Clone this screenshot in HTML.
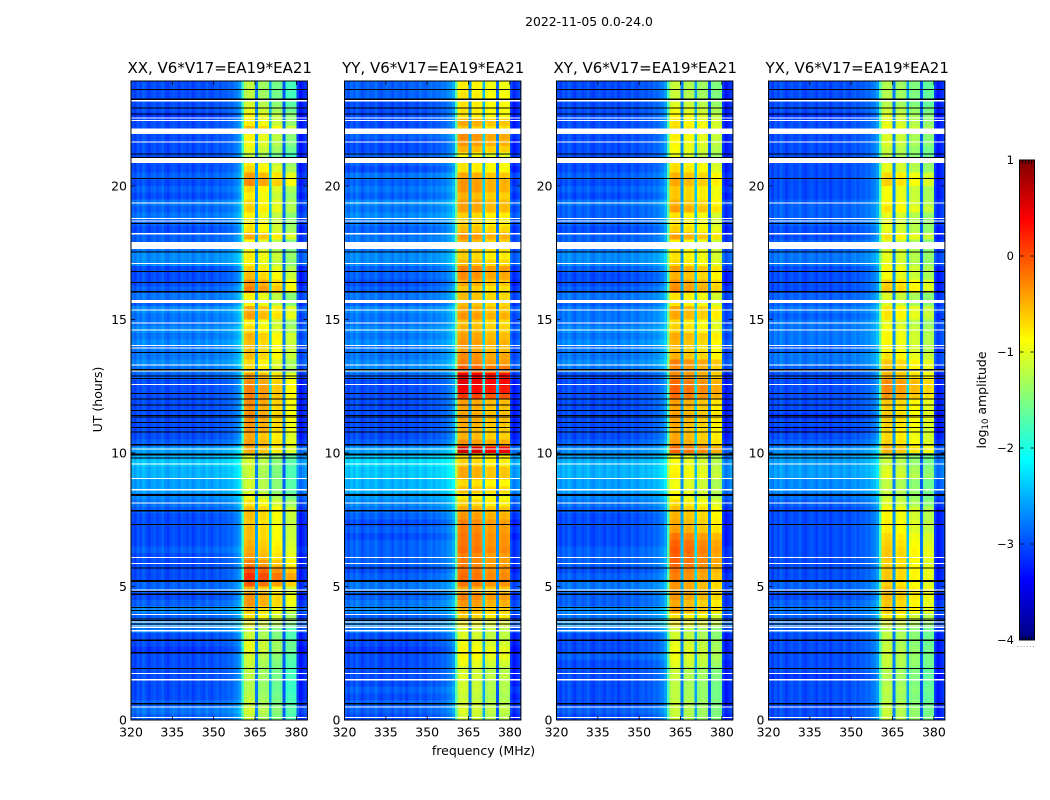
<!DOCTYPE html>
<html lang="en">
<head>
<meta charset="utf-8">
<title>2022-11-05 0.0-24.0</title>
<style>
html,body{margin:0;padding:0;background:#fff;}
body{width:1050px;height:800px;overflow:hidden;}
svg{display:block;}
text{font-family:"DejaVu Sans","Liberation Sans",sans-serif;fill:#000;}
</style>
</head>
<body>
<svg id="fig" width="1050" height="800" viewBox="0 0 1050 800" xmlns="http://www.w3.org/2000/svg">
  <text x="589" y="26" font-size="12.4" text-anchor="middle">2022-11-05 0.0-24.0</text>
  <text x="483.5" y="755" font-size="12.5" text-anchor="middle">frequency (MHz)</text>
  <text transform="translate(102,399.5) rotate(-90)" font-size="12.5" text-anchor="middle">UT (hours)</text>
  <text transform="translate(986,400) rotate(-90)" font-size="12.5" text-anchor="middle">log<tspan font-size="8.5" dy="2">10</tspan><tspan dy="-2"> amplitude</tspan></text>
</svg>
<script>
// ---- chart data (log10 amplitude) ----
const panelTitles = ["XX, V6*V17=EA19*EA21","YY, V6*V17=EA19*EA21","XY, V6*V17=EA19*EA21","YX, V6*V17=EA19*EA21"];
const xTicks = [320,335,350,365,380];
const yTicks = [0,5,10,15,20];
const colorbarTicks = [1,0,-1,-2,-3,-4];

// background level per quarter-hour, starting at 0 UT
const backgroundXX = [
-2.9,-2.8,-2.9,-3.0,-3.0,-3.0,-3.0,-3.0,-3.0,-3.0,-3.1,-3.0,-3.0,-2.8,-2.7,-2.9,-2.7,-2.9,-3.0,-2.9,-2.9,-3.0,-3.0,-3.0,
-3.0,-2.9,-3.0,-3.0,-3.0,-3.0,-3.0,-2.9,-2.8,-2.7,-2.6,-2.6,-2.5,-2.5,-2.4,-2.5,-2.6,-2.9,-3.0,-3.0,-3.0,-3.0,-3.0,-3.0,
-3.0,-3.0,-3.0,-2.9,-2.8,-2.7,-2.8,-2.8,-2.7,-2.8,-2.7,-2.8,-2.8,-2.7,-2.9,-2.8,-2.9,-3.0,-3.0,-3.0,-2.7,-2.7,-2.8,-2.9,
-2.9,-3.0,-2.9,-2.8,-2.9,-2.8,-3.0,-2.9,-3.0,-2.9,-3.0,-3.0,-3.0,-3.0,-3.0,-3.0,-3.0,-3.0,-3.1,-3.0,-3.0,-3.0,-3.0,-3.0];
const backgroundYY = [
-3.0,-2.9,-2.9,-3.0,-2.9,-3.0,-3.0,-3.0,-3.0,-3.0,-3.1,-3.0,-3.0,-2.8,-2.7,-2.9,-2.7,-2.8,-2.9,-2.8,-2.8,-2.9,-3.0,-2.9,
-2.9,-2.9,-2.9,-3.0,-2.9,-3.0,-2.9,-2.8,-2.7,-2.6,-2.5,-2.5,-2.4,-2.4,-2.3,-2.4,-2.6,-2.9,-3.0,-3.0,-3.0,-3.0,-3.0,-3.0,
-3.0,-3.0,-3.0,-2.9,-2.7,-2.7,-2.8,-2.8,-2.7,-2.8,-2.7,-2.8,-2.8,-2.7,-2.9,-2.8,-2.9,-3.0,-2.9,-2.9,-2.7,-2.7,-2.8,-2.8,
-2.8,-2.9,-2.8,-2.7,-2.8,-2.7,-2.9,-2.8,-2.9,-2.8,-3.0,-2.9,-2.9,-3.0,-3.0,-2.9,-3.0,-3.0,-3.0,-3.0,-3.0,-2.9,-2.9,-2.9];
const backgroundXY = [
-3.0,-2.9,-3.0,-3.0,-3.0,-3.0,-3.0,-3.0,-3.0,-2.9,-3.0,-3.0,-3.0,-2.8,-2.6,-2.8,-2.7,-2.9,-2.9,-2.8,-2.8,-2.9,-3.0,-2.9,
-2.9,-2.9,-3.0,-3.0,-3.0,-3.0,-3.0,-2.9,-2.8,-2.7,-2.6,-2.6,-2.5,-2.5,-2.5,-2.6,-2.7,-2.9,-3.0,-3.0,-3.0,-3.0,-3.0,-3.0,
-3.0,-3.0,-3.0,-3.0,-2.8,-2.7,-2.8,-2.8,-2.7,-2.8,-2.7,-2.8,-2.8,-2.8,-2.9,-2.8,-2.9,-3.0,-3.0,-2.9,-2.7,-2.7,-2.8,-2.9,
-2.9,-3.0,-2.9,-2.9,-2.9,-2.8,-3.0,-2.9,-3.0,-2.9,-3.0,-3.0,-3.0,-3.0,-3.0,-3.0,-3.0,-3.0,-3.0,-3.0,-3.0,-3.0,-3.0,-3.0];
const backgroundYX = [
-3.0,-3.0,-3.0,-3.0,-3.0,-3.0,-3.1,-3.0,-3.0,-3.0,-3.0,-3.0,-3.0,-2.9,-2.8,-2.9,-2.8,-2.9,-3.0,-2.9,-2.9,-3.0,-3.0,-3.0,
-3.0,-3.0,-3.0,-3.0,-3.0,-3.0,-3.0,-3.0,-2.9,-2.8,-2.7,-2.7,-2.6,-2.6,-2.6,-2.6,-2.7,-2.9,-3.0,-3.1,-3.0,-3.1,-3.0,-3.0,
-3.0,-3.0,-3.0,-3.0,-2.9,-2.8,-2.8,-2.9,-2.8,-2.8,-2.8,-2.8,-2.9,-2.8,-2.9,-2.9,-3.0,-3.0,-3.0,-3.0,-2.8,-2.8,-2.9,-2.9,
-3.0,-3.0,-2.9,-2.9,-2.9,-2.9,-3.0,-3.0,-3.0,-3.0,-3.0,-3.0,-3.0,-3.0,-3.0,-3.0,-3.0,-3.0,-3.1,-3.0,-3.0,-3.0,-3.0,-3.0];

// in-band level per quarter-hour, starting at 0 UT
const bandXX = [
-1.2,-1.15,-1.2,-1.25,-1.3,-1.3,-1.25,-1.25,-1.2,-1.15,-1.05,-1.05,-1.2,-1.2,-0.95,-0.8,-0.65,-0.4,-0.4,-0.55,-0.1,0.1,-0.05,-0.3,
-0.45,-0.5,-0.55,-0.6,-0.6,-0.65,-0.6,-0.6,-0.8,-1.0,-1.15,-1.15,-1.2,-1.2,-1.15,-1.1,-0.5,-0.45,-0.5,-0.4,-0.4,-0.35,-0.4,-0.35,
-0.3,-0.3,-0.35,-0.45,-0.75,-0.75,-0.6,-0.6,-0.6,-0.55,-0.75,-0.85,-0.45,-0.5,-0.9,-0.9,-0.3,-0.4,-0.6,-0.7,-0.9,-0.85,-1.0,-0.95,
-0.5,-0.8,-0.85,-0.9,-0.7,-0.75,-0.85,-0.75,-0.35,-0.45,-0.75,-0.85,-1.25,-1.05,-0.95,-0.9,-0.6,-0.85,-0.9,-1.05,-1.15,-1.25,-1.25,-1.25];
const bandYY = [
-1.15,-1.1,-1.15,-1.2,-1.15,-1.15,-1.1,-1.15,-1.0,-0.9,-0.9,-1.0,-1.1,-1.1,-0.9,-0.7,-0.55,-0.4,-0.3,-0.5,-0.25,-0.2,-0.25,-0.3,
-0.3,-0.2,-0.25,-0.25,-0.3,-0.3,-0.4,-0.5,-0.7,-0.85,-0.6,-0.75,-0.5,-0.5,-0.7,-0.75,0.55,-0.4,-0.55,-0.55,-0.5,-0.45,-0.5,-0.45,
0.05,0.35,0.45,0.4,-0.1,-0.3,-0.35,-0.45,-0.4,-0.45,-0.55,-0.6,-0.4,-0.5,-0.6,-0.6,-0.65,-0.5,-0.35,-0.3,-0.6,-0.7,-0.65,-0.55,
-0.4,-0.6,-0.7,-0.7,-0.45,-0.45,-0.55,-0.4,-0.4,-0.5,-0.8,-0.8,-0.95,-0.55,-0.4,-0.35,-0.65,-0.5,-0.8,-0.8,-0.8,-0.8,-0.85,-0.85];
const bandXY = [
-1.2,-1.2,-1.2,-1.25,-1.25,-1.25,-1.2,-1.2,-1.05,-1.0,-1.0,-1.05,-1.15,-1.15,-0.85,-0.8,-0.45,-0.5,-0.4,-0.4,-0.4,-0.3,-0.25,-0.15,
-0.15,-0.1,-0.15,-0.25,-0.45,-0.5,-0.55,-0.6,-0.75,-0.95,-0.95,-1.0,-0.85,-0.9,-0.95,-1.0,-0.15,-0.45,-0.5,-0.55,-0.5,-0.45,-0.5,-0.45,
-0.2,-0.15,-0.2,-0.35,-0.35,-0.3,-0.55,-0.6,-0.55,-0.5,-0.7,-0.75,-0.5,-0.5,-0.8,-0.8,-0.35,-0.4,-0.55,-0.45,-0.75,-0.8,-0.85,-0.85,
-0.45,-0.7,-0.8,-0.8,-0.45,-0.55,-0.65,-0.65,-0.5,-0.55,-0.75,-0.8,-1.05,-0.95,-0.9,-0.85,-0.75,-0.8,-0.9,-1.0,-1.1,-1.2,-1.2,-1.2];
const bandYX = [
-1.15,-1.15,-1.2,-1.25,-1.2,-1.25,-1.25,-1.25,-1.15,-1.15,-1.15,-1.2,-1.2,-1.2,-1.0,-0.85,-0.6,-0.6,-0.55,-0.55,-0.65,-0.6,-0.6,-0.65,
-0.6,-0.6,-0.65,-0.7,-0.8,-0.8,-0.85,-0.85,-1.05,-1.15,-1.15,-1.2,-1.0,-1.05,-1.15,-1.2,-0.5,-0.65,-0.7,-0.7,-0.65,-0.6,-0.65,-0.6,
-0.35,-0.3,-0.3,-0.5,-0.6,-0.6,-0.75,-0.85,-0.85,-0.85,-0.9,-1.0,-0.75,-0.75,-1.05,-1.05,-0.6,-0.65,-0.9,-0.85,-1.0,-1.0,-1.05,-1.05,
-0.75,-1.0,-1.0,-1.0,-0.75,-0.85,-0.9,-0.9,-0.65,-0.7,-1.0,-1.0,-1.2,-1.15,-1.05,-1.05,-0.9,-1.0,-1.05,-1.15,-1.25,-1.25,-1.25,-1.25];

// offset per 1 MHz channel outside the band, starting at 320 MHz
const channelOffset = [
0.0,-0.1,0.05,-0.05,0.1,0.0,-0.1,0.0,0.05,-0.05,0.0,0.1,-0.05,-0.1,0.0,0.05,
0.0,-0.1,0.05,0.0,-0.05,0.05,-0.1,0.0,0.05,0.0,-0.05,0.1,0.0,-0.05,0.05,0.1,
0.0,0.1,0.05,0.15,0.1,0.2,0.25,0.4,1.2,0,0,0,0,0,0,0,
0,0,0,0,0,0,0,0,0,0,0,0,-0.1,-0.3,-0.2,-0.1];
// sub-band offset per polarisation
const subbandOffsetXX = [0.05,-0.1,-0.3,-0.55];
const subbandOffsetYY = [0.05,0,-0.1,-0.1];
const subbandOffsetXY = [0.05,-0.05,-0.15,-0.3];
const subbandOffsetYX = [0,-0.1,-0.25,-0.4];
const subbandStartChannels = [41,46,51,56];
const subbandShape = [-0.05,0.02,0.02,-0.03];
const notchChannels = [45,50,55];
const notchLevels = [-2.7,-2.5,-2.9];

// flagged times, hours UT: white = no data, black = zero amplitude
const thinWhiteHours = [22.54,22.46,21.64,19.36,18.79,18.69,17.10,15.35,14.86,14.60,14.02,13.94,13.30,13.07,12.57,10.15,9.59,9.05,8.12,6.09,5.87,4.86,3.96,3.67,3.52,3.46,1.75,0.48,0.10];
const wideWhiteHours = [23.19,22.05,20.96,18.21,17.77,15.67,8.62,3.34,1.51];
const wideWhiteSpans = [0.064,0.20,0.20,0.06,0.28,0.12,0.06,0.06,0.06];
const thinBlackHours = [23.62,22.91,22.70,21.19,21.07,20.27,18.59,17.53,16.79,16.39,13.76,12.88,12.79,12.23,12.02,11.80,11.60,11.40,11.35,11.14,10.96,10.78,9.82,7.33,5.70,4.81,4.22,4.11,3.78,3.73,3.60,1.93];
const wideBlackHours = [23.25,16.04,13.12,10.30,9.95,8.43,7.84,5.21,4.71,2.99,2.52,0.61];
const wideBlackSpans = [0.065,0.065,0.055,0.055,0.075,0.065,0.065,0.065,0.065,0.065,0.065,0.065];

// ---- layout and axes ----
const panelLefts = [131,344.5,556.5,768.5];
const panelWidth = 176.4;
const plotTop = 81, plotBottom = 720;
const freqMin = 320, freqMax = 384, hourMax = 23.93, rowHours = 0.25;
const levelMin = -4, levelMax = 1;
const cbLeft = 1019.5, cbRight = 1034.5, cbTop = 160, cbBottom = 640;
const backgrounds = [backgroundXX,backgroundYY,backgroundXY,backgroundYX];
const bands = [bandXX,bandYY,bandXY,bandYX];
const subbandOffsets = [subbandOffsetXX,subbandOffsetYY,subbandOffsetXY,subbandOffsetYX];
const svgNS = 'http://www.w3.org/2000/svg';
const fig = document.getElementById('fig');

function xScale(p,f){ return panelLefts[p] + (f-freqMin)/(freqMax-freqMin)*panelWidth; }
function yScale(h){ return plotBottom - Math.min(h,hourMax)/hourMax*(plotBottom-plotTop); }
function cbScale(v){ return cbBottom - (v-levelMin)/(levelMax-levelMin)*(cbBottom-cbTop); }

function jetPart(t){ return Math.max(0,Math.min(1,1.5-Math.abs(4*t))); }
function jet(v){
  const t = Math.max(0,Math.min(1,(v-levelMin)/(levelMax-levelMin)));
  const r = jetPart(t-0.75), g = jetPart(t-0.5), b = jetPart(t-0.25);
  return 'rgb('+Math.round(r*255)+','+Math.round(g*255)+','+Math.round(b*255)+')';
}
function cellValue(p,row,ch){
  const nIdx = notchChannels.indexOf(ch);
  const level = bands[p][row];
  if(nIdx>=0) return notchLevels[nIdx] + 0.3*(level+1);
  for(let s=0;s<subbandStartChannels.length;s++){
    const k = ch-subbandStartChannels[s];
    if(k>=0 && k<subbandShape.length) return level + subbandOffsets[p][s] + subbandShape[k];
  }
  return backgrounds[p][row] + channelOffset[ch];
}
function makeRect(parent,x,y,w,h,fill){
  const el = document.createElementNS(svgNS,'rect');
  el.setAttribute('x',x.toFixed(2));
  el.setAttribute('y',y.toFixed(2));
  el.setAttribute('width',w.toFixed(2));
  el.setAttribute('height',h.toFixed(2));
  el.setAttribute('fill',fill);
  parent.appendChild(el);
  return el;
}
function makeText(str,x,y,anchor,size){
  const el = document.createElementNS(svgNS,'text');
  el.setAttribute('x',x);
  el.setAttribute('y',y);
  el.setAttribute('text-anchor',anchor);
  el.setAttribute('font-size',size);
  el.textContent = str;
  fig.appendChild(el);
  return el;
}
function makeLine(x1,y1,x2,y2,stroke,width){
  const el = document.createElementNS(svgNS,'line');
  el.setAttribute('x1',x1);
  el.setAttribute('y1',y1);
  el.setAttribute('x2',x2);
  el.setAttribute('y2',y2);
  el.setAttribute('stroke',stroke);
  el.setAttribute('stroke-width',width);
  fig.appendChild(el);
  return el;
}
function minusText(v){ return v<0 ? '\u2212'+(-v) : String(v); }

// ---- panels ----
panelTitles.forEach(function(title,p){
  const left = xScale(p,freqMin), right = xScale(p,freqMax);
  const group = document.createElementNS(svgNS,'g');
  
  
  group.setAttribute('shape-rendering','crispEdges');
  fig.appendChild(group);

  for(let row=0;row<bands[p].length;row++){
    for(let ch=0;ch<channelOffset.length;ch++){
      const x0 = xScale(p,freqMin+ch), x1 = xScale(p,freqMin+ch+1);
      const y0 = yScale((row+1)*rowHours), y1 = yScale(row*rowHours);
      const cell = makeRect(group,x0,y0,x1-x0,y1-y0,jet(cellValue(p,row,ch)));
      
      
    }
  }
  thinWhiteHours.forEach(function(h){
    const el = makeRect(group,left,yScale(h)-0.5,right-left,1,'#fff');
    
    
  });
  wideWhiteHours.forEach(function(h,i){
    const el = makeRect(group,left,yScale(h+wideWhiteSpans[i]/2),right-left,yScale(h-wideWhiteSpans[i]/2)-yScale(h+wideWhiteSpans[i]/2),'#fff');
    
    
  });
  thinBlackHours.forEach(function(h){
    const el = makeRect(group,left,yScale(h)-0.5,right-left,1,'#000');
    
    
  });
  wideBlackHours.forEach(function(h,i){
    const el = makeRect(group,left,yScale(h+wideBlackSpans[i]/2),right-left,yScale(h-wideBlackSpans[i]/2)-yScale(h+wideBlackSpans[i]/2),'#000');
    
    
  });

  const frame = document.createElementNS(svgNS,'rect');
  frame.setAttribute('x',left);
  frame.setAttribute('y',plotTop);
  frame.setAttribute('width',right-left);
  frame.setAttribute('height',plotBottom-plotTop);
  frame.setAttribute('fill','none');
  frame.setAttribute('stroke','#000');
  frame.setAttribute('stroke-width','1');
  
  
  fig.appendChild(frame);

  const titleEl = makeText(title,(left+right)/2+0.5,73,'middle',15);
  
  

  xTicks.forEach(function(f){
    const x = xScale(p,f);
    const tb = makeLine(x,plotBottom,x,plotBottom-4,'#000',0.8);
    
    
    const tt = makeLine(x,plotTop,x,plotTop+4,'#000',0.8);
    
    
    const lab = makeText(String(f),x,736.5,'middle',12.5);
    
    
  });
  yTicks.forEach(function(h){
    const y = yScale(h);
    const tl = makeLine(left,y,left+4,y,'#000',0.8);
    
    
    const tr = makeLine(right,y,right-4,y,'#000',0.8);
    
    
    const lab = makeText(String(h),left-4,y+4.5,'end',12.5);
    
    
  });
});

// ---- colorbar ----
const cbGroup = document.createElementNS(svgNS,'g');


cbGroup.setAttribute('shape-rendering','crispEdges');
fig.appendChild(cbGroup);
for(let y=cbTop;y<cbBottom;y+=2){
  const v = levelMax - (y+1-cbTop)/(cbBottom-cbTop)*(levelMax-levelMin);
  const seg = makeRect(cbGroup,cbLeft,y,cbRight-cbLeft,2,jet(v));
  
  
}
const cbFrame = document.createElementNS(svgNS,'rect');
cbFrame.setAttribute('x',cbLeft);
cbFrame.setAttribute('y',cbTop);
cbFrame.setAttribute('width',cbRight-cbLeft);
cbFrame.setAttribute('height',cbBottom-cbTop);
cbFrame.setAttribute('fill','none');
cbFrame.setAttribute('stroke','#000');
cbFrame.setAttribute('stroke-width','1');


fig.appendChild(cbFrame);
colorbarTicks.forEach(function(v){
  const y = cbScale(v);
  const a = makeLine(cbLeft,y,cbLeft+4,y,'#000',0.8);
  
  
  const b = makeLine(cbRight,y,cbRight-4,y,'#000',0.8);
  
  
  const lab = makeText(minusText(v),1014,y+4,'end',11.5);
  
  
});
for(let k=1;k<5;k++){
  const x = cbLeft + k*(cbRight-cbLeft)/5;
  const t1 = makeLine(x,cbTop,x,cbTop+4,'#000',0.8);
  
  
  const t2 = makeLine(x,cbBottom,x,cbBottom-4,'#000',0.8);
  
  
}
for(let k=0;k<6;k++){
  const d = makeRect(fig,1017.5+k*3.1,646,1,1,'#999');
  
  
}
</script>
</body>
</html>
